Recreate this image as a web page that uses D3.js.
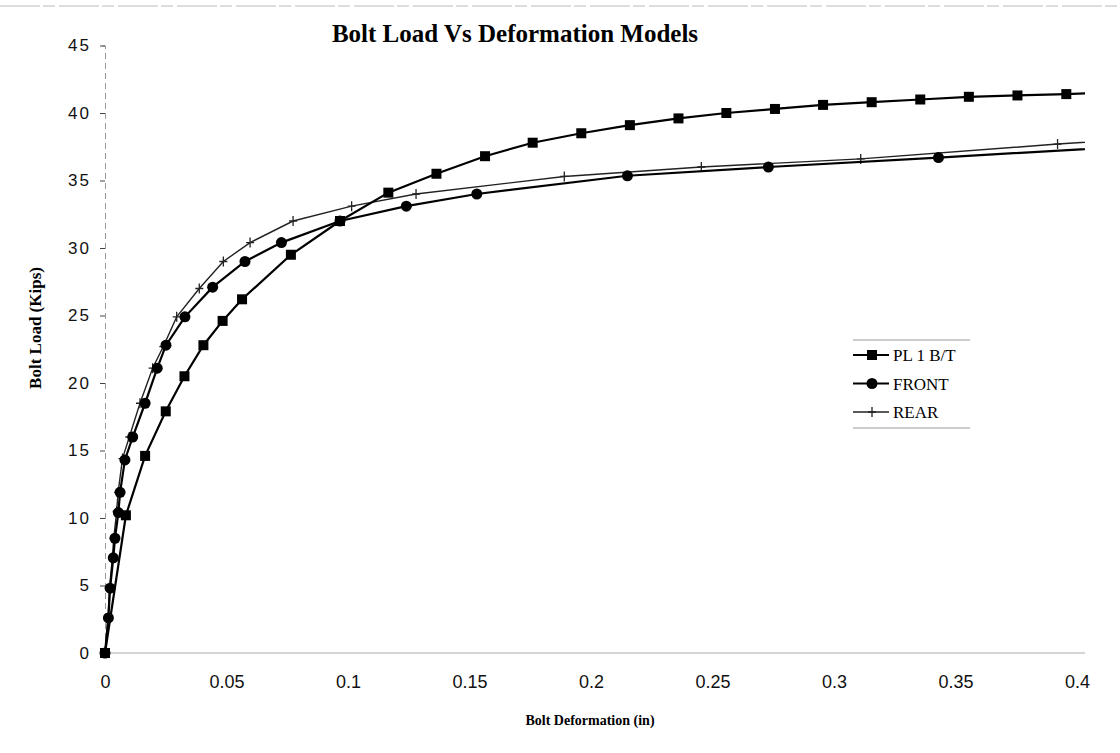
<!DOCTYPE html>
<html>
<head>
<meta charset="utf-8">
<script src="https://cdn.jsdelivr.net/npm/d3@7"></script>
<style>
  body { margin: 0; background: #fff; }
  svg { display: block; }
</style>
</head>
<body>
<div id="chart"></div>
<script>
// values
const seriesNames = ["PL 1 B/T", "FRONT", "REAR"];

const plX = [0, 0.0086, 0.0165, 0.0250, 0.0327, 0.0405, 0.0484, 0.0564, 0.0765, 0.0967, 0.1166, 0.1364, 0.1564, 0.176, 0.196, 0.216, 0.236, 0.2557, 0.2757, 0.2955, 0.3155, 0.3355, 0.3555, 0.3755, 0.3956, 0.4156];
const plY = [0, 10.2, 14.6, 17.9, 20.5, 22.8, 24.6, 26.2, 29.5, 32.0, 34.1, 35.5, 36.8, 37.8, 38.5, 39.1, 39.6, 40.0, 40.3, 40.6, 40.8, 41.0, 41.2, 41.3, 41.4, 41.55];

const frontX = [0, 0.0014, 0.0021, 0.0034, 0.0041, 0.0055, 0.0062, 0.0082, 0.0114, 0.0165, 0.0215, 0.0251, 0.0329, 0.0443, 0.0576, 0.0726, 0.0967, 0.124, 0.153, 0.215, 0.273, 0.343, 0.42];
const frontY = [0, 2.6, 4.8, 7.05, 8.5, 10.4, 11.9, 14.3, 16.0, 18.5, 21.1, 22.8, 24.9, 27.1, 29.0, 30.4, 32.0, 33.1, 34.0, 35.35, 36.0, 36.7, 37.5];

const rearX = [0, 0.0012, 0.0018, 0.0030, 0.0036, 0.0048, 0.0054, 0.0072, 0.0100, 0.0144, 0.0196, 0.0240, 0.0295, 0.0388, 0.0487, 0.0597, 0.0774, 0.1015, 0.128, 0.189, 0.2454, 0.311, 0.392, 0.47];
const rearY = [0, 2.5, 4.7, 7.0, 8.5, 10.5, 11.9, 14.4, 16.0, 18.5, 21.1, 22.7, 24.9, 27.0, 29.0, 30.4, 32.0, 33.1, 34.0, 35.3, 36.0, 36.6, 37.7, 38.6];

const xTicks = [0, 0.05, 0.1, 0.15, 0.2, 0.25, 0.3, 0.35, 0.4];
const yTicks = [0, 5, 10, 15, 20, 25, 30, 35, 40, 45];

const width = 1120, height = 753;
const x = d3.scaleLinear().domain([0, 0.4]).range([105, 1077]);
const y = d3.scaleLinear().domain([0, 45]).range([653, 45.5]);

const svg = d3.select("#chart").append("svg")
    .attr("width", width)
    .attr("height", height);

// faint scanned frame line along the top
svg.append("line")
    .attr("x1", 0).attr("x2", width)
    .attr("y1", 6).attr("y2", 6)
    .attr("stroke", "#bbb").attr("stroke-width", 1)
    .attr("stroke-dasharray", "40,3,12,4");

svg.append("defs").append("clipPath")
    .attr("id", "plot-clip")
    .append("rect")
    .attr("x", x(0) - 8).attr("y", 0)
    .attr("width", x(0.4) - x(0) + 16)
    .attr("height", y(0) + 10);

// axes
const yAxis = d3.axisLeft(y).tickValues(yTicks).tickSize(5).tickPadding(9);
const gy = svg.append("g").attr("transform", `translate(${x(0)},0)`).call(yAxis);
gy.select(".domain").attr("stroke", "#999").attr("stroke-dasharray", "6,4");
gy.selectAll(".tick line").attr("stroke", "#444");
gy.selectAll(".tick text")
    .style("font-family", "'Liberation Sans', Arial, sans-serif")
    .style("font-size", "17px")
    .style("letter-spacing", "2px")
    .attr("fill", "#111");

const xAxis = d3.axisBottom(x).tickValues(xTicks).tickSize(0).tickPadding(22)
    .tickFormat(d => d === 0 ? "0" : String(+d.toFixed(2)));
const gx = svg.append("g").attr("transform", `translate(0,${y(0)})`).call(xAxis);
gx.select(".domain").attr("stroke", "#aaa").attr("d", `M${x(0)},0H${x(0.4) + 8}`);
gx.selectAll(".tick text")
    .style("font-family", "'Liberation Sans Narrow', 'Arial Narrow', 'Liberation Sans', sans-serif")
    .style("font-size", "18px")
    .attr("fill", "#111");

// titles
svg.append("text")
    .attr("x", 515).attr("y", 42)
    .attr("text-anchor", "middle")
    .style("font-family", "'Liberation Serif', 'Times New Roman', serif")
    .style("font-weight", "bold")
    .style("font-size", "25px")
    .text("Bolt Load Vs Deformation Models");

svg.append("text")
    .attr("transform", "translate(41,328) rotate(-90)")
    .attr("text-anchor", "middle")
    .style("font-family", "'Liberation Serif', 'Times New Roman', serif")
    .style("font-weight", "bold")
    .style("font-size", "17px")
    .text("Bolt Load (Kips)");

svg.append("text")
    .attr("x", 590).attr("y", 725)
    .attr("text-anchor", "middle")
    .style("font-family", "'Liberation Serif', 'Times New Roman', serif")
    .style("font-weight", "bold")
    .style("font-size", "14px")
    .text("Bolt Deformation (in)");

// series
const series = [
    { name: seriesNames[0], xs: plX, ys: plY, marker: "square", stroke: "#000", sw: 2.2 },
    { name: seriesNames[1], xs: frontX, ys: frontY, marker: "circle", stroke: "#000", sw: 2.2 },
    { name: seriesNames[2], xs: rearX, ys: rearY, marker: "plus", stroke: "#222", sw: 1.4 }
];

const line = d3.line().x(d => x(d[0])).y(d => y(d[1]));

function drawMarker(g, type, cx, cy, stroke) {
    if (type === "square") {
        g.append("rect")
            .attr("x", cx - 5).attr("y", cy - 5)
            .attr("width", 10).attr("height", 10)
            .attr("fill", "#000");
    } else if (type === "circle") {
        g.append("circle")
            .attr("cx", cx).attr("cy", cy).attr("r", 5.5)
            .attr("fill", "#000");
    } else {
        g.append("path")
            .attr("d", `M${cx - 4},${cy}H${cx + 4}M${cx},${cy - 5}V${cy + 5}`)
            .attr("stroke", stroke).attr("stroke-width", 1.3)
            .attr("fill", "none");
    }
}

const plot = svg.append("g").attr("clip-path", "url(#plot-clip)");

// draw REAR first so the heavier lines sit on top
series.slice().reverse().forEach(s => {
    const pts = s.xs.map((v, i) => [v, s.ys[i]]);
    plot.append("path")
        .datum(pts)
        .attr("d", line)
        .attr("fill", "none")
        .attr("stroke", s.stroke)
        .attr("stroke-width", s.sw);
    const mg = plot.append("g");
    pts.forEach(p => drawMarker(mg, s.marker, x(p[0]), y(p[1]), s.stroke));
});

// legend
const legend = svg.append("g").attr("transform", "translate(853,340)");
legend.append("line").attr("x1", 0).attr("x2", 117).attr("y1", 0).attr("y2", 0)
    .attr("stroke", "#999").attr("stroke-width", 1);
legend.append("line").attr("x1", 0).attr("x2", 117).attr("y1", 88).attr("y2", 88)
    .attr("stroke", "#999").attr("stroke-width", 1);

series.forEach((s, i) => {
    const ly = 15 + i * 28.5;
    legend.append("line")
        .attr("x1", 0).attr("x2", 36)
        .attr("y1", ly).attr("y2", ly)
        .attr("stroke", s.stroke).attr("stroke-width", s.sw);
    drawMarker(legend, s.marker, 19, ly, s.stroke);
    legend.append("text")
        .attr("x", 40).attr("y", ly + 6)
        .style("font-family", "'Liberation Serif', 'Times New Roman', serif")
        .style("font-size", "17px")
        .text(s.name);
});
</script>
</body>
</html>
